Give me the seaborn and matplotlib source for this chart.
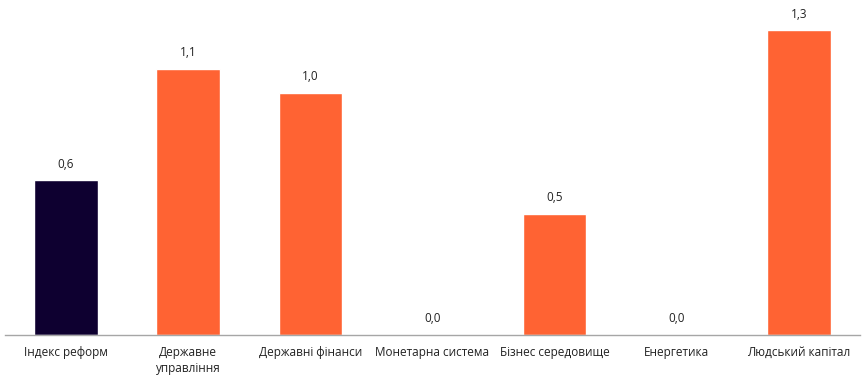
import pandas as pd
import seaborn as sns
import matplotlib.pyplot as plt

categories = ["Індекс реформ", "Державне\nуправління", "Державні фінанси",
              "Монетарна система", "Бізнес середовище", "Енергетика",
              "Людський капітал"]
values = [0.64, 1.1, 1.0, 0.0, 0.5, 0.0, 1.26]
colors = ["#0E0030", "#FF6333", "#FF6333", "#FF6333", "#FF6333", "#FF6333", "#FF6333"]

df = pd.DataFrame({"cat": categories, "val": values})

sns.set_theme(style="white")
plt.rcParams['font.family'] = ['Open Sans', 'DejaVu Sans']

fig = plt.figure(figsize=(8.64, 3.85), dpi=100)
ax = fig.add_axes([5 / 864, 50 / 385, 855 / 864, 335 / 385])
sns.barplot(data=df, x="cat", y="val", hue="cat", palette=colors,
            width=0.52, saturation=1, legend=False, ax=ax)

for i, v in enumerate(values):
    ax.text(i, v + 0.04, f"{v:.1f}".replace(".", ","), ha="center", va="bottom",
            fontsize=8.5, color="#222222")

ax.set_ylim(0, 1.385)
ax.set_xlim(-0.5, len(categories) - 0.5)
ax.set_xlabel("")
ax.set_ylabel("")
ax.set_yticks([])
for s in ["top", "right", "left"]:
    ax.spines[s].set_visible(False)
ax.spines["bottom"].set_color("#A6A6A6")
ax.spines["bottom"].set_linewidth(1)
ax.tick_params(axis="x", length=0, pad=8, labelsize=8.5, labelcolor="#222222")
plt.setp(ax.get_xticklabels(), linespacing=1.25)

fig.savefig("out.png", dpi=100)
